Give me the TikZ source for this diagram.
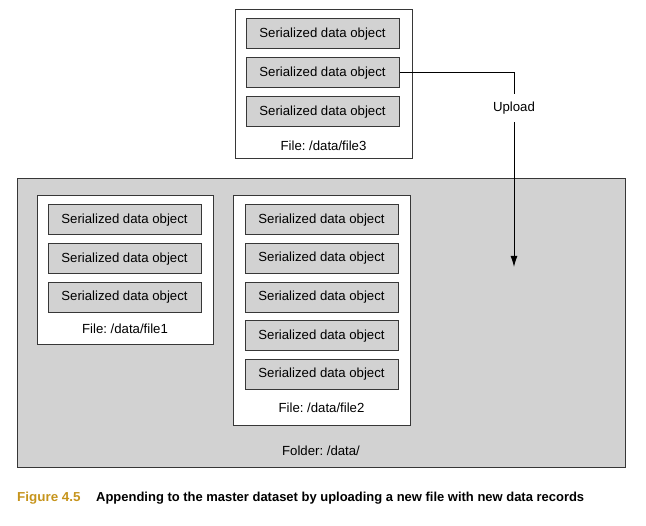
\documentclass[tikz,border=0pt]{standalone}
\usepackage{fontspec}
\setmainfont{Liberation Sans}
\usepackage{graphicx}
\usetikzlibrary{arrows.meta}
\frenchspacing
\definecolor{boxgray}{RGB}{210,210,210}
\definecolor{edge}{RGB}{55,55,55}
\definecolor{figgold}{RGB}{198,148,28}
\tikzstyle{obj} = [draw=edge, fill=boxgray, line width=1pt, minimum width=153pt, minimum height=30pt, inner sep=0pt]
\tikzstyle{file} = [draw=edge, fill=white, line width=1pt, inner sep=0pt]
\tikzstyle{folder} = [draw=edge, fill=boxgray, line width=1pt, minimum width=608pt, minimum height=289pt, inner sep=0pt]
\tikzstyle{capt} = [anchor=base west, inner sep=0pt, font=\fontsize{13}{15}\selectfont\bfseries]

\begin{document}
\begin{tikzpicture}[x=1pt,y=-1pt,font=\fontsize{13.2}{15}\selectfont]
	  \useasboundingbox (0,0) rectangle (646,526);

	  % folder with the two stored files
	  \node (folder) at (321,323.5) [folder] {};
	  \node (fl) at (321,451) {Folder: /data/};

	  \node (f1) at (125,270.5) [file, minimum width=176pt, minimum height=149pt] {};
	  \node (a1) at (124.5,220) [obj] {Serialized data object};
	  \node (a2) at (124.5,259) [obj] {Serialized data object};
	  \node (a3) at (124.5,297.5) [obj] {Serialized data object};
	  \node (f1l) at (125,329) {File: /data/file1};

	  \node (f2) at (321.5,311) [file, minimum width=177pt, minimum height=230pt] {};
	  \node (b1) at (321.5,220) [obj] {Serialized data object};
	  \node (b2) at (321.5,258.5) [obj] {Serialized data object};
	  \node (b3) at (321.5,297.5) [obj] {Serialized data object};
	  \node (b4) at (321.5,336) [obj] {Serialized data object};
	  \node (b5) at (321.5,374.5) [obj] {Serialized data object};
	  \node (f2l) at (321.5,408) {File: /data/file2};

	  % new file
	  \node (f3) at (323.5,84.5) [file, minimum width=177pt, minimum height=149pt] {};
	  \node (c1) at (322.5,34) [obj] {Serialized data object};
	  \node (c2) at (322.5,73) [obj] {Serialized data object};
	  \node (c3) at (322.5,112) [obj] {Serialized data object};
	  \node (f3l) at (323.5,146) {File: /data/file3};

	  \coordinate (tip) at (514,267);
	  \draw [-{Latex[length=11pt,width=7pt]}, line width=1pt] (c2.east) -| node [pos=0.59, fill=white, inner xsep=2pt, inner ysep=8pt] {Upload} (tip);

	  % caption
	  \node (fig) at (17,502) [capt, text=figgold] {\resizebox{63.4pt}{\height}{Figure 4.5}};
	  \node (cap) at (96,502) [capt] {\resizebox{488pt}{\height}{Appending to the master dataset by uploading a new file with new data records}};
\end{tikzpicture}
\end{document}
